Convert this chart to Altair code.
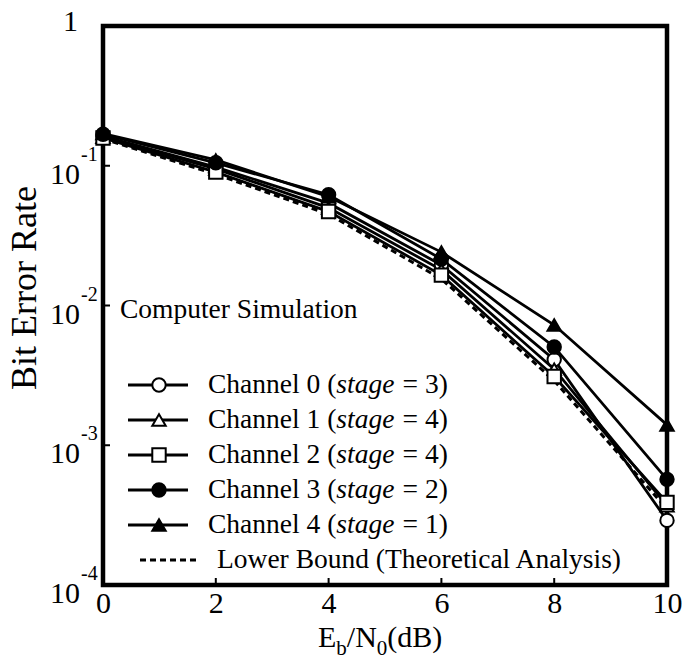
import altair as alt
import pandas as pd

# ---- data ----
snr = [0, 2, 4, 6, 8, 10]
ch0 = [0.163, 0.098, 0.054, 0.0195, 0.0041, 0.00029]
ch1 = [0.160, 0.095, 0.050, 0.0180, 0.0035, 0.00037]
ch2 = [0.158, 0.090, 0.047, 0.0165, 0.0031, 0.00039]
ch3 = [0.168, 0.105, 0.062, 0.0215, 0.00505, 0.00057]
ch4 = [0.170, 0.110, 0.060, 0.0241, 0.00725, 0.0014]
lower_bound = [0.156, 0.087, 0.045, 0.0155, 0.0029, 0.00035]
series_names = ["Channel 0", "Channel 1", "Channel 2", "Channel 3", "Channel 4"]
stages = [3, 4, 4, 2, 1]
x_ticks = [0, 2, 4, 6, 8, 10]
y_decades = [0.1, 0.01, 0.001, 0.0001]
y_exponents = ["-1", "-2", "-3", "-4"]

W, H = 564, 559
FONT = "Liberation Serif"
LEG_FS = 27.5

rows = []
for name, vals in zip(series_names, [ch0, ch1, ch2, ch3, ch4]):
    for x, v in zip(snr, vals):
        rows.append({"series": name, "snr": x, "ber": v})
df = pd.DataFrame(rows)
lb_df = pd.DataFrame({"snr": snr, "ber": lower_bound})

xs = alt.Scale(domain=[0, 10], nice=False, zero=False)
ys = alt.Scale(type="log", domain=[1e-4, 1], nice=False)
shape_scale = alt.Scale(domain=series_names,
                        range=["circle", "triangle-up", "square", "circle", "triangle-up"])
fill_scale = alt.Scale(domain=series_names,
                       range=["white", "white", "white", "black", "black"])

x_axis = alt.Axis(values=x_ticks, format="d", labelFontSize=30, labelFont=FONT,
                  labelColor="black", ticks=False, domain=False, grid=False, title=None,
                  labelPadding=3, labelAngle=0, labelFlush=False)
y_axis = alt.Axis(labels=False, ticks=False, domain=False, grid=False, title=None)

lb_line = alt.Chart(lb_df).mark_line(color="black", strokeWidth=3, strokeDash=[6, 4]).encode(
    x=alt.X("snr:Q", scale=xs, axis=x_axis),
    y=alt.Y("ber:Q", scale=ys, axis=y_axis),
)
lines = alt.Chart(df).mark_line(color="black", strokeWidth=2.8).encode(
    x=alt.X("snr:Q", scale=xs),
    y=alt.Y("ber:Q", scale=ys),
    detail="series:N",
)
points = alt.Chart(df).mark_point(opacity=1, strokeWidth=2, stroke="black", size=180).encode(
    x=alt.X("snr:Q", scale=xs),
    y=alt.Y("ber:Q", scale=ys),
    shape=alt.Shape("series:N", scale=shape_scale, legend=None),
    fill=alt.Fill("series:N", scale=fill_scale, legend=None),
)

# inward ticks
bt = alt.Chart(pd.DataFrame({"t": x_ticks[1:-1]})).mark_rule(color="black", strokeWidth=2).encode(
    x=alt.X("t:Q", scale=xs), y=alt.value(H), y2=alt.value(H - 7))
lt = alt.Chart(pd.DataFrame({"d": y_decades[:-1]})).mark_rule(color="black", strokeWidth=2).encode(
    y=alt.Y("d:Q", scale=ys), x=alt.value(0), x2=alt.value(7))

# y tick labels with superscripts
ylab_df = pd.DataFrame({"d": y_decades, "e": y_exponents})
ylab_base = alt.Chart(ylab_df).mark_text(align="right", baseline="middle", font=FONT,
                                         fontSize=30, dx=-23, dy=9, color="black").encode(
    x=alt.value(0), y=alt.Y("d:Q", scale=ys), text=alt.value("10"))
ylab_exp = alt.Chart(ylab_df).mark_text(align="left", baseline="middle", font=FONT,
                                        fontSize=20, dx=-22, dy=-11, color="black").encode(
    x=alt.value(0), y=alt.Y("d:Q", scale=ys), text="e:N")
one = pd.DataFrame({"d": [1.0]})
ylab_one = alt.Chart(one).mark_text(align="right", baseline="middle", font=FONT,
                                    fontSize=30, dx=-25, dy=-4, color="black").encode(
    x=alt.value(0), y=alt.Y("d:Q", scale=ys), text=alt.value("1"))


def txt(s, x, y, fs=30, align="left", angle=0, style="normal", baseline="alphabetic"):
    kw = dict(align=align, baseline=baseline, font=FONT, fontSize=fs, color="black",
              fontStyle=style)
    if angle:
        kw["angle"] = angle
    return alt.Chart(pd.DataFrame({"k": [0]})).mark_text(**kw).encode(
        x=alt.value(x), y=alt.value(y), text=alt.value(s))


ytitle = txt("Bit Error Rate", -78, 262, fs=36, align="center", angle=270, baseline="middle")
xt = [
    txt("E", 215, 621),
    txt("b", 233.3, 629, fs=21),
    txt("/N", 243.8, 621),
    txt("0", 273.8, 629, fs=21),
    txt("(dB)", 284.3, 621),
]
sim = txt("Computer Simulation", 17, 284, fs=LEG_FS, baseline="middle")

# in-plot legend (pixel layout)
leg_rows = []
leg_lines = []
for i, (name, st) in enumerate(zip(series_names, stages)):
    py = 359 + 35 * i
    leg_rows.append({"series": name, "py": py, "pre": name + " (", "post": f"= {st})"})
    leg_lines.append({"series": name, "px": 25, "py": py})
    leg_lines.append({"series": name, "px": 85, "py": py})
leg_df = pd.DataFrame(leg_rows)
leg_line_df = pd.DataFrame(leg_lines)

px_none = alt.X("px:Q", scale=None, axis=None)
py_none = alt.Y("py:Q", scale=None, axis=None)
leg_l = alt.Chart(leg_line_df).mark_line(color="black", strokeWidth=2.8).encode(
    x=px_none, y=py_none, detail="series:N")
leg_p = alt.Chart(leg_df).mark_point(opacity=1, strokeWidth=2, stroke="black", size=180).encode(
    x=alt.value(56), y=py_none,
    shape=alt.Shape("series:N", scale=shape_scale, legend=None),
    fill=alt.Fill("series:N", scale=fill_scale, legend=None))
pre_w = 4.666 * LEG_FS
ital_w = 2.111 * LEG_FS
sp_w = 0.3 * LEG_FS
leg_t1 = alt.Chart(leg_df).mark_text(align="left", baseline="middle", font=FONT,
                                     fontSize=LEG_FS, color="black").encode(
    x=alt.value(105), y=py_none, text="pre:N")
leg_t2 = alt.Chart(leg_df).mark_text(align="left", baseline="middle", font=FONT,
                                     fontSize=LEG_FS, fontStyle="italic", color="black").encode(
    x=alt.value(105 + pre_w), y=py_none, text=alt.value("stage"))
leg_t3 = alt.Chart(leg_df).mark_text(align="left", baseline="middle", font=FONT,
                                     fontSize=LEG_FS, color="black").encode(
    x=alt.value(105 + pre_w + ital_w + sp_w), y=py_none, text="post:N")
lb_leg = alt.Chart(pd.DataFrame({"px": [37, 94], "py": [534, 534]})).mark_line(
    color="black", strokeWidth=3, strokeDash=[6, 4]).encode(x=px_none, y=py_none)
lb_txt = txt("Lower Bound (Theoretical Analysis)", 114, 534, fs=LEG_FS, baseline="middle")

chart = alt.layer(
    lb_line, lines, points, bt, lt, ylab_base, ylab_exp, ylab_one, ytitle, *xt, sim,
    leg_l, leg_p, leg_t1, leg_t2, leg_t3, lb_leg, lb_txt,
).properties(
    width=W, height=H,
    background="white",
    autosize=alt.AutoSizeParams(type="none"),
    padding={"left": 103, "top": 26, "right": 22, "bottom": 81},
).configure_view(stroke="black", strokeWidth=4.5)

chart.save("out.html", embed_options={"renderer": "svg", "actions": False})
